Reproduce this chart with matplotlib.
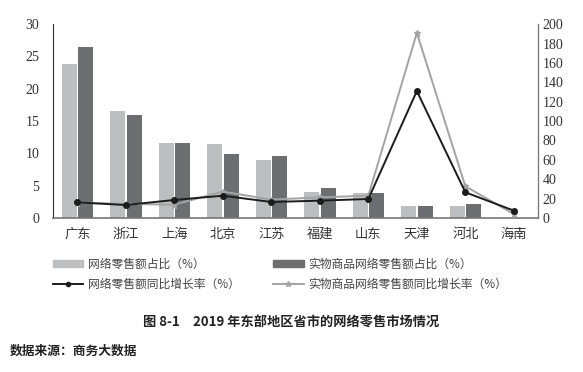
import numpy as np
import matplotlib.pyplot as plt
from matplotlib.patches import Patch
from matplotlib.lines import Line2D

plt.rcParams['font.family'] = ['Liberation Serif', 'Noto Sans CJK SC']

# data
provinces = ['广东', '浙江', '上海', '北京', '江苏', '福建', '山东', '天津', '河北', '海南']
online_share = [23.8, 16.5, 11.6, 11.4, 9.0, 4.1, 3.8, 1.9, 1.9, 0.05]
physical_share = [26.4, 15.9, 11.6, 9.9, 9.6, 4.6, 3.8, 1.9, 2.1, 0.05]
online_growth = [16.1, 13.4, 18.6, 23.0, 16.5, 17.9, 19.6, 131.0, 26.5, 7.6]
physical_growth = [15.8, 14.5, 13.8, 27.2, 19.0, 21.3, 23.0, 191.0, 32.7, 4.1]

light = '#bdbec1'
dark = '#6d6e72'
black = '#1c1c1c'
gray = '#a3a3a3'

fig = plt.figure(figsize=(5.83, 3.72), dpi=100)
ax = fig.add_axes([0.091, 0.414, 0.832, 0.521])
ax2 = ax.twinx()

x = np.arange(len(provinces))
w = 0.31
ax.bar(x - 0.17, online_share, width=w, color=light, zorder=1)
ax.bar(x + 0.17, physical_share, width=w, color=dark, zorder=1)

ax2.plot(x, physical_growth, color=gray, lw=1.4, marker='*', ms=5, zorder=3)
ax2.plot(x, online_growth, color=black, lw=1.4, marker='o', ms=4, zorder=4)

ax.set_xlim(-0.5, len(provinces) - 0.5)
ax.set_ylim(0, 30)
ax.set_yticks(np.arange(0, 31, 5))
ax2.set_ylim(0, 200)
ax2.set_yticks(np.arange(0, 201, 20))

ax.set_xticks(x)
ax.set_xticklabels(provinces, family='Noto Sans CJK SC', fontsize=9.5, color='#333333')
ax.tick_params(axis='x', length=0, pad=7)
ax.tick_params(axis='y', length=0, labelsize=10, pad=10, labelcolor='#333333')
ax2.tick_params(axis='y', length=0, labelsize=10, pad=3, labelcolor='#333333')

for a in (ax, ax2):
    a.spines['top'].set_visible(False)
ax.spines['left'].set_color('#333333')
ax.spines['left'].set_linewidth(0.8)
ax.spines['bottom'].set_color('#777777')
ax.spines['bottom'].set_linewidth(1.2)
ax2.spines['right'].set_color('#777777')
ax2.spines['right'].set_linewidth(0.8)
ax2.spines['left'].set_visible(False)
ax2.spines['bottom'].set_visible(False)

handles = [
    Patch(color=light),
    Line2D([], [], color=black, lw=1.4, marker='o', ms=3),
    Patch(color=dark),
    Line2D([], [], color=gray, lw=1.4, marker='*', ms=4),
]
labels = ['网络零售额占比（%）', '网络零售额同比增长率（%）',
          '实物商品网络零售额占比（%）', '实物商品网络零售额同比增长率（%）']
leg = fig.legend(handles, labels, ncol=2, loc='upper left', bbox_to_anchor=(0.072, 0.335),
                 frameon=False, prop={'family': 'Noto Sans CJK SC', 'size': 8.5},
                 handlelength=2.6, handleheight=0.5, handletextpad=0.4,
                 columnspacing=2.8, labelspacing=0.55, labelcolor='#444444')

fig.text(0.5, 0.132, '图 8-1　2019 年东部地区省市的网络零售市场情况', ha='center', va='center',
         family='Noto Sans CJK SC', fontsize=9.5, fontweight='bold', color='#222222')
fig.text(0.016, 0.056, '数据来源：商务大数据', ha='left', va='center',
         family='Noto Sans CJK SC', fontsize=9.2, fontweight='bold', color='#222222')

fig.savefig('out.png', dpi=100)
